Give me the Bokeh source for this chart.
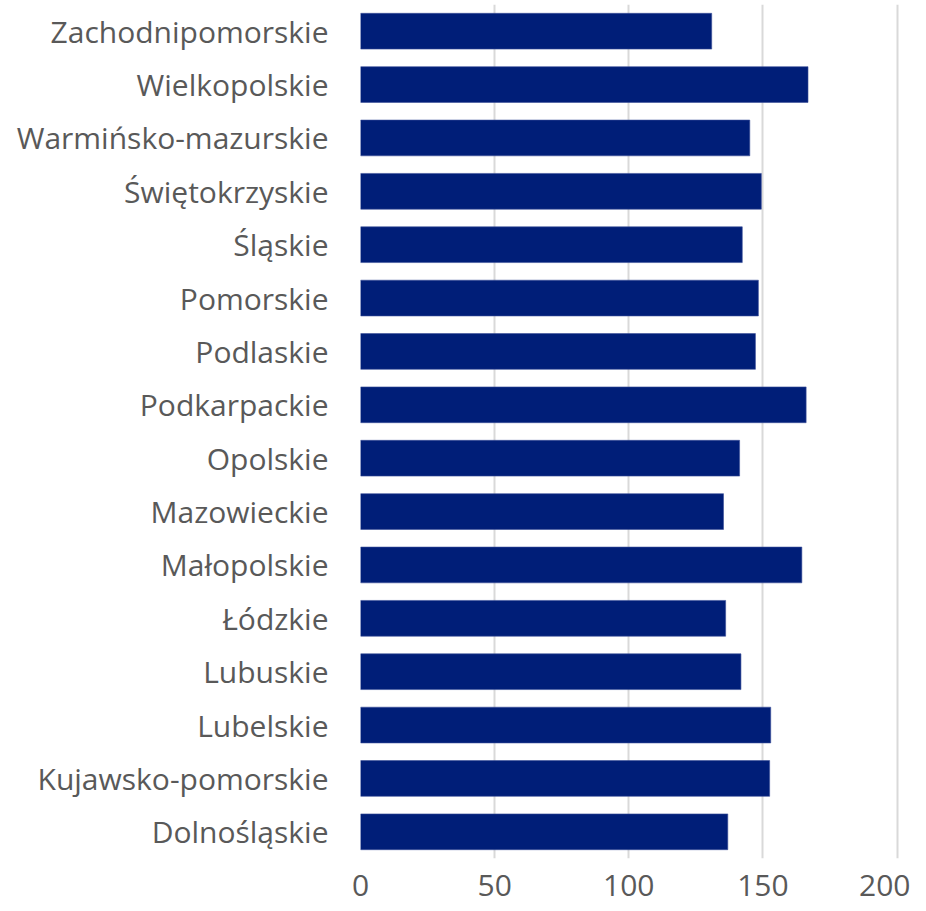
from bokeh.plotting import figure
from bokeh.models import ColumnDataSource, Range1d, FactorRange, FixedTicker
from bokeh.embed import file_html
from bokeh.resources import INLINE

# Data (bottom to top)
regions = [
    "Dolnośląskie", "Kujawsko-pomorskie", "Lubelskie", "Lubuskie", "Łódzkie",
    "Małopolskie", "Mazowieckie", "Opolskie", "Podkarpackie", "Podlaskie",
    "Pomorskie", "Śląskie", "Świętokrzyskie", "Warmińsko-mazurskie",
    "Wielkopolskie", "Zachodnipomorskie",
]
values = [136.9, 152.5, 152.9, 141.8, 136.1, 164.5, 135.3, 141.3, 166.1, 147.2,
          148.3, 142.3, 149.4, 145.1, 166.8, 130.9]
x_ticks = [0, 50, 100, 150, 200]

FONT = "Open Sans"
LABEL_COLOR = "#595959"

src = ColumnDataSource(dict(region=regions, value=values))

p = figure(
    width=910, height=907,
    y_range=FactorRange(factors=regions, range_padding=0),
    x_range=Range1d(0, 205),
    output_backend="svg", toolbar_location=None,
    min_border_left=360, min_border_right=0, min_border_top=4, min_border_bottom=49,
)
p.outline_line_color = None
p.background_fill_color = "white"

p.hbar(y="region", right="value", left=0, height=0.67, source=src,
       fill_color="#001E78", line_color="#3a4f98", line_width=0.6)

p.xaxis.ticker = FixedTicker(ticks=x_ticks)
p.xaxis.axis_line_color = None
p.xaxis.major_tick_line_color = None
p.xaxis.minor_tick_line_color = None
p.xaxis.major_label_text_font = FONT
p.xaxis.major_label_text_font_size = "30px"
p.xaxis.major_label_text_color = LABEL_COLOR
p.xaxis.major_label_standoff = 10

p.yaxis.axis_line_color = None
p.yaxis.major_tick_line_color = None
p.yaxis.minor_tick_line_color = None
p.yaxis.major_label_text_font = FONT
p.yaxis.major_label_text_font_size = "30px"
p.yaxis.major_label_text_color = LABEL_COLOR
p.yaxis.major_label_standoff = 26

p.ygrid.grid_line_color = None
p.xgrid.grid_line_color = "#d9d9d9"
p.xgrid.grid_line_width = 2

open("out.html", "w").write(file_html(p, INLINE))
